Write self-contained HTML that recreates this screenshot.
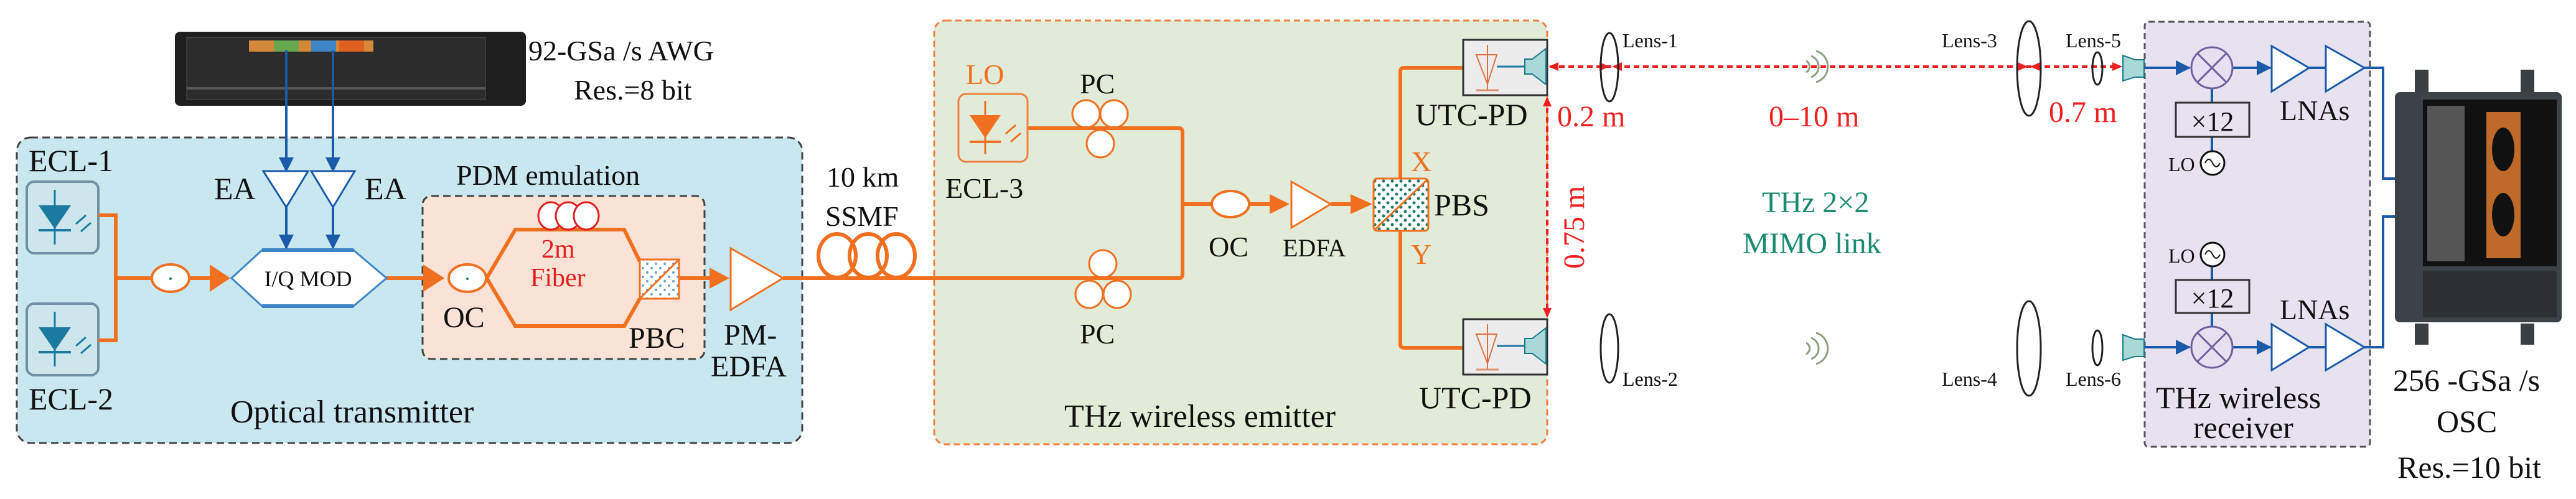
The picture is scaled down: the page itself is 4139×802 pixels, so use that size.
<!DOCTYPE html>
<html><head><meta charset="utf-8"><style>
html,body{margin:0;padding:0;background:#fff;}
svg text{font-family:"Liberation Serif","Times New Roman",serif;}
</style></head><body>
<svg width="4139" height="797" viewBox="0 0 4139 797" xmlns="http://www.w3.org/2000/svg" font-family="Liberation Serif, serif">
<defs>
<marker id="bl" markerWidth="24" markerHeight="24" refX="22" refY="12" orient="auto" markerUnits="userSpaceOnUse"><path d="M0,0 L24,12 L0,24 z" fill="#1a5aa8"/></marker>
<pattern id="dots" width="14" height="14" patternUnits="userSpaceOnUse"><rect width="14" height="14" fill="#fff"/><circle cx="4" cy="4" r="2.5" fill="#1a7a6a"/><circle cx="11" cy="11" r="2.5" fill="#1a7a6a"/></pattern>
<pattern id="dots2" width="14" height="14" patternUnits="userSpaceOnUse"><rect width="14" height="14" fill="#fff"/><circle cx="4" cy="4" r="2" fill="#6aa0d0"/><circle cx="11" cy="11" r="2" fill="#6aa0d0"/></pattern>
</defs>

<rect x="27" y="221" width="1262" height="491" rx="22" fill="#c8e7ef" stroke="#444" stroke-width="3" stroke-dasharray="12,7"/>
<rect x="679" y="315" width="453" height="262" rx="14" fill="#fbe2d6" stroke="#444" stroke-width="3" stroke-dasharray="12,7"/>
<rect x="1501" y="33" width="985" height="681" rx="18" fill="#e1ebd7" stroke="#f08040" stroke-width="3" stroke-dasharray="10,6"/>
<rect x="3446" y="35" width="362" height="683" rx="6" fill="#e7e2ef" stroke="#555" stroke-width="3" stroke-dasharray="10,6"/>

<!-- AWG -->
<rect x="281" y="51" width="564" height="119" rx="8" fill="#1e1e1e"/>
<rect x="300" y="60" width="480" height="100" fill="#2c2c2c" stroke="#555"/>
<rect x="400" y="65" width="200" height="18" fill="#d4893a"/>
<rect x="440" y="65" width="40" height="18" fill="#6aa84f"/>
<rect x="500" y="65" width="40" height="18" fill="#3d85c6"/>
<rect x="545" y="65" width="40" height="18" fill="#e06020"/>
<rect x="300" y="140" width="480" height="4" fill="#555"/>
<text x="849" y="97" font-size="46" fill="#111">92-GSa /s AWG</text>
<text x="922" y="160" font-size="46" fill="#111">Res.=8 bit</text>

<g stroke="#1a5aa8" stroke-width="4" fill="none">
<line x1="460" y1="81" x2="460" y2="275" marker-end="url(#bl)"/>
<line x1="535" y1="81" x2="535" y2="275" marker-end="url(#bl)"/>
<line x1="460" y1="333" x2="460" y2="399" marker-end="url(#bl)"/>
<line x1="535" y1="333" x2="535" y2="399" marker-end="url(#bl)"/>
</g>
<polygon points="423,275 495,275 460,333" fill="#fff" stroke="#1a5aa8" stroke-width="3"/>
<polygon points="500,275 570,275 535,333" fill="#fff" stroke="#1a5aa8" stroke-width="3"/>
<text x="344" y="320" font-size="50" fill="#111">EA</text>
<text x="586" y="320" font-size="50" fill="#111">EA</text>

<g id="ecl">
<rect x="43" y="292" width="115" height="115" rx="12" fill="#cde6ee" stroke="#7090a8" stroke-width="4"/>
<polygon points="62,330 114,330 88,368" fill="#1a7aa0"/>
<line x1="88" y1="305" x2="88" y2="393" stroke="#1a7aa0" stroke-width="3"/>
<line x1="62" y1="370" x2="114" y2="370" stroke="#1a7aa0" stroke-width="4"/>
<path d="M122,360 l16,-14 M130,372 l16,-14" stroke="#1a7aa0" stroke-width="3"/>
</g>
<use href="#ecl" y="196"/>
<text x="46" y="275" font-size="50" fill="#111">ECL-1</text>
<text x="46" y="658" font-size="50" fill="#111">ECL-2</text>

<g stroke="#f07020" stroke-width="6" fill="none">
<path d="M158,346 H186 V547 H158"/>
<line x1="186" y1="447" x2="244" y2="447"/>
<line x1="304" y1="447" x2="345" y2="447"/>
<line x1="621" y1="447" x2="690" y2="447"/>
<path d="M782,447 L828,369 H1003 L1028,420 M782,447 L828,524 H1003 L1028,480"/>
<line x1="1091" y1="447" x2="1150" y2="447"/>
<path d="M1258,447 H1895 Q1900,447 1900,440 V212 Q1900,206 1894,206 H1651"/>
<line x1="1900" y1="328" x2="1947" y2="328"/>
<line x1="2007" y1="328" x2="2050" y2="328"/>
<line x1="2138" y1="328" x2="2180" y2="328"/>
<path d="M2250,287 V115 Q2250,109 2256,109 H2351 M2250,371 V553 Q2250,559 2256,559 H2351"/>
</g>
<polygon points="337,425 370,447 337,469" fill="#f07020"/>
<polygon points="680,425 714,447 680,469" fill="#f07020"/>
<polygon points="1140,430 1172,447 1140,464" fill="#f07020"/>
<polygon points="2040,312 2072,328 2040,344" fill="#f07020"/>
<polygon points="2170,312 2205,328 2170,344" fill="#f07020"/>
<ellipse cx="274" cy="447" rx="30" ry="22" fill="#fff" stroke="#f07020" stroke-width="4"/>
<circle cx="274" cy="448" r="2" fill="#1a7a6a"/>

<polygon points="372,447 421,402 568,402 621,447 568,492 421,492" fill="#fff" stroke="#3d85c6" stroke-width="3"/>
<rect x="421" y="399" width="147" height="6" fill="#3d85c6"/>
<rect x="421" y="489" width="147" height="6" fill="#3d85c6"/>
<text x="495" y="460" font-size="36" text-anchor="middle" fill="#111">I/Q MOD</text>

<text x="733" y="297" font-size="46" fill="#111">PDM emulation</text>
<ellipse cx="751" cy="447" rx="30" ry="22" fill="#fff" stroke="#f07020" stroke-width="4"/>
<circle cx="751" cy="448" r="2" fill="#1a7a6a"/>
<g fill="#fff" stroke="#e02020" stroke-width="3">
<ellipse cx="885" cy="347" rx="20" ry="22"/><ellipse cx="913" cy="347" rx="20" ry="22"/><ellipse cx="942" cy="347" rx="20" ry="22"/>
</g>
<text x="870" y="414" font-size="42" fill="#e02020">2m</text>
<text x="852" y="460" font-size="42" fill="#e02020">Fiber</text>
<rect x="1028" y="417" width="63" height="63" fill="url(#dots2)" stroke="#f07020" stroke-width="3"/>
<line x1="1030" y1="478" x2="1089" y2="419" stroke="#f07020" stroke-width="3"/>
<text x="712" y="526" font-size="48" fill="#111">OC</text>
<text x="1010" y="559" font-size="48" fill="#111">PBC</text>
<text x="370" y="679" font-size="52" fill="#111">Optical transmitter</text>

<polygon points="1174,399 1258,447 1174,498" fill="#fff" stroke="#f07020" stroke-width="3"/>
<text x="1163" y="554" font-size="48" fill="#111">PM-</text>
<text x="1142" y="605" font-size="48" fill="#111">EDFA</text>

<g fill="none" stroke="#f07020" stroke-width="6">
<ellipse cx="1345" cy="411" rx="30" ry="35"/><ellipse cx="1395" cy="411" rx="30" ry="35"/><ellipse cx="1440" cy="411" rx="30" ry="35"/>
</g>
<text x="1328" y="300" font-size="46" fill="#111">10 km</text>
<text x="1326" y="363" font-size="46" fill="#111">SSMF</text>

<text x="1552" y="135" font-size="46" fill="#f07020">LO</text>
<rect x="1540" y="151" width="111" height="109" rx="12" fill="none" stroke="#f08040" stroke-width="3"/>
<polygon points="1558,185 1608,185 1583,222" fill="#f07020"/>
<line x1="1583" y1="162" x2="1583" y2="248" stroke="#f07020" stroke-width="3"/>
<line x1="1558" y1="228" x2="1608" y2="228" stroke="#f07020" stroke-width="4"/>
<path d="M1616,215 l16,-14 M1624,228 l16,-14" stroke="#f07020" stroke-width="3"/>
<text x="1519" y="318" font-size="46" fill="#111">ECL-3</text>

<g fill="#fff" stroke="#f07020" stroke-width="3">
<ellipse cx="1745" cy="183" rx="22" ry="22"/><ellipse cx="1790" cy="183" rx="22" ry="22"/><ellipse cx="1768" cy="231" rx="22" ry="22"/>
<ellipse cx="1772" cy="424" rx="22" ry="22"/><ellipse cx="1750" cy="473" rx="22" ry="22"/><ellipse cx="1795" cy="473" rx="22" ry="22"/>
</g>
<line x1="1720" y1="206" x2="1815" y2="206" stroke="#f07020" stroke-width="6"/>
<line x1="1720" y1="447" x2="1820" y2="447" stroke="#f07020" stroke-width="6"/>
<text x="1735" y="150" font-size="46" fill="#111">PC</text>
<text x="1735" y="552" font-size="46" fill="#111">PC</text>

<ellipse cx="1977" cy="328" rx="30" ry="21" fill="#fff" stroke="#f07020" stroke-width="4"/>
<polygon points="2075,292 2138,328 2075,366" fill="#fff" stroke="#f07020" stroke-width="3"/>
<text x="1942" y="412" font-size="46" fill="#111">OC</text>
<text x="2061" y="412" font-size="40" fill="#111">EDFA</text>
<text x="1710" y="686" font-size="52" fill="#111">THz wireless emitter</text>

<rect x="2207" y="287" width="88" height="84" rx="6" fill="url(#dots)" stroke="#f07020" stroke-width="3"/>
<line x1="2209" y1="369" x2="2293" y2="289" stroke="#f07020" stroke-width="3"/>
<text x="2304" y="346" font-size="50" fill="#111">PBS</text>
<text x="2267" y="275" font-size="46" fill="#f07020">X</text>
<text x="2267" y="424" font-size="46" fill="#f07020">Y</text>

<g id="utc">
<rect x="2351" y="64" width="135" height="89" fill="#ececec" stroke="#333" stroke-width="3"/>
<polygon points="2372,88 2405,88 2390,135" fill="none" stroke="#e07040" stroke-width="2"/>
<line x1="2390" y1="72" x2="2390" y2="145" stroke="#e07040" stroke-width="2"/>
<line x1="2372" y1="145" x2="2408" y2="145" stroke="#e09070" stroke-width="3"/>
<line x1="2405" y1="107" x2="2450" y2="107" stroke="#1a7aa0" stroke-width="3"/>
<polygon points="2450,95 2462,95 2484,78 2484,136 2462,119 2450,119" fill="#a8d8d8" stroke="#1a7a8a" stroke-width="2"/>
</g>
<use href="#utc" y="449"/>
<text x="2274" y="201" font-size="50" fill="#111">UTC-PD</text>
<text x="2280" y="656" font-size="50" fill="#111">UTC-PD</text>

<g stroke="#f02020" stroke-width="4" stroke-dasharray="9,6" fill="none">
<line x1="2490" y1="107" x2="3405" y2="107"/>
<line x1="2486" y1="158" x2="2486" y2="508"/>
</g>
<g fill="#f02020">
<polygon points="2488,107 2504,100 2504,114"/>
<polygon points="2586,107 2570,100 2570,114"/>
<polygon points="2590,107 2606,100 2606,114"/>
<polygon points="3258,107 3242,100 3242,114"/>
<polygon points="3262,107 3278,100 3278,114"/>
<polygon points="3410,107 3394,100 3394,114"/>
<polygon points="2486,155 2479,171 2493,171"/>
<polygon points="2486,511 2479,495 2493,495"/>
</g>
<text x="2502" y="203" font-size="48" fill="#f02020">0.2 m</text>
<text x="2842" y="203" font-size="48" fill="#f02020">0–10 m</text>
<text x="3292" y="196" font-size="48" fill="#f02020">0.7 m</text>
<text transform="translate(2545,432) rotate(-90)" font-size="48" fill="#f02020">0.75 m</text>
<text x="2831" y="341" font-size="48" fill="#1a8a70">THz  2×2</text>
<text x="2800" y="407" font-size="48" fill="#1a8a70">MIMO link</text>

<g fill="none" stroke="#222" stroke-width="3">
<ellipse cx="2586" cy="108" rx="14" ry="55"/>
<ellipse cx="2586" cy="560" rx="14" ry="55"/>
<ellipse cx="3260" cy="110" rx="19" ry="76"/>
<ellipse cx="3260" cy="560" rx="19" ry="76"/>
<ellipse cx="3370" cy="110" rx="8" ry="26"/>
<ellipse cx="3370" cy="559" rx="8" ry="28"/>
</g>
<g font-size="32" fill="#111">
<text x="2607" y="76">Lens-1</text><text x="2607" y="620">Lens-2</text>
<text x="3120" y="76">Lens-3</text><text x="3120" y="620">Lens-4</text>
<text x="3319" y="76">Lens-5</text><text x="3319" y="620">Lens-6</text>
</g>
<g fill="none" stroke="#8aa080" stroke-width="3">
<path d="M2902,98 a10,10 0 0 1 0,18 M2910,90 a18,18 0 0 1 0,34 M2918,82 a26,26 0 0 1 0,50"/>
<path d="M2902,551 a10,10 0 0 1 0,18 M2910,543 a18,18 0 0 1 0,34 M2918,535 a26,26 0 0 1 0,50"/>
</g>

<g id="rxhorn"><polygon points="3411,89 3430,96 3445,96 3445,124 3430,124 3411,130" fill="#a8d8d8" stroke="#1a7a8a" stroke-width="2"/></g>
<use href="#rxhorn" y="449"/>
<g stroke="#1a5aa8" stroke-width="4" fill="none">
<line x1="3445" y1="109" x2="3518" y2="109" marker-end="url(#bl)"/>
<line x1="3587" y1="109" x2="3648" y2="109" marker-end="url(#bl)"/>
<line x1="3445" y1="558" x2="3518" y2="558" marker-end="url(#bl)"/>
<line x1="3587" y1="558" x2="3648" y2="558" marker-end="url(#bl)"/>
<line x1="3710" y1="109" x2="3737" y2="109"/>
<line x1="3710" y1="558" x2="3737" y2="558"/>
<path d="M3799,109 H3829 V287 H3882 M3799,558 H3829 V348 H3882"/>
<line x1="3554" y1="142" x2="3554" y2="165"/><line x1="3554" y1="220" x2="3554" y2="242"/>
<line x1="3554" y1="429" x2="3554" y2="450"/><line x1="3554" y1="503" x2="3554" y2="525"/>
</g>
<g fill="#fff" stroke="#1a5aa8" stroke-width="3">
<polygon points="3650,74 3710,109 3650,147"/><polygon points="3737,74 3799,109 3737,147"/>
<polygon points="3650,521 3710,558 3650,595"/><polygon points="3737,521 3799,558 3737,595"/>
</g>
<g fill="#e6e0f0" stroke="#7060a0" stroke-width="3">
<circle cx="3554" cy="109" r="33"/><circle cx="3554" cy="558" r="33"/>
</g>
<path d="M3531,86 L3577,132 M3577,86 L3531,132 M3531,535 L3577,581 M3577,535 L3531,581" stroke="#7060a0" stroke-width="3"/>
<rect x="3496" y="165" width="118" height="55" fill="none" stroke="#333" stroke-width="3"/>
<rect x="3496" y="450" width="118" height="53" fill="none" stroke="#333" stroke-width="3"/>
<text x="3555" y="210" font-size="44" text-anchor="middle" fill="#111">×12</text>
<text x="3555" y="494" font-size="44" text-anchor="middle" fill="#111">×12</text>
<circle cx="3555" cy="262" r="19" fill="#fff" stroke="#111" stroke-width="3"/>
<circle cx="3555" cy="409" r="19" fill="#fff" stroke="#111" stroke-width="3"/>
<path d="M3543,262 q6,-12 12,0 t12,0 M3543,409 q6,-12 12,0 t12,0" fill="none" stroke="#111" stroke-width="2"/>
<text x="3484" y="275" font-size="32" fill="#111">LO</text>
<text x="3484" y="422" font-size="32" fill="#111">LO</text>
<text x="3663" y="193" font-size="46" fill="#111">LNAs</text>
<text x="3663" y="513" font-size="46" fill="#111">LNAs</text>
<text x="3464" y="656" font-size="50" fill="#111">THz wireless</text>
<text x="3524" y="704" font-size="50" fill="#111">receiver</text>

<rect x="3880" y="112" width="22" height="40" fill="#3a3f44"/><rect x="4050" y="112" width="22" height="40" fill="#3a3f44"/>
<rect x="3880" y="520" width="22" height="34" fill="#3a3f44"/><rect x="4050" y="520" width="22" height="34" fill="#3a3f44"/>
<rect x="3848" y="148" width="268" height="370" rx="8" fill="#3c4248"/>
<rect x="3893" y="160" width="215" height="268" fill="#111"/>
<rect x="3900" y="170" width="60" height="250" fill="#555"/>
<rect x="3995" y="180" width="55" height="235" fill="#c06a2a"/>
<ellipse cx="4022" cy="240" rx="18" ry="35" fill="#111"/><ellipse cx="4022" cy="345" rx="18" ry="35" fill="#111"/>
<rect x="3893" y="435" width="215" height="75" fill="#2c3035"/>
<text x="3845" y="628" font-size="50" fill="#111">256 -GSa /s</text>
<text x="3915" y="694" font-size="50" fill="#111">OSC</text>
<text x="3852" y="768" font-size="50" fill="#111">Res.=10 bit</text>
</svg>
</body></html>
